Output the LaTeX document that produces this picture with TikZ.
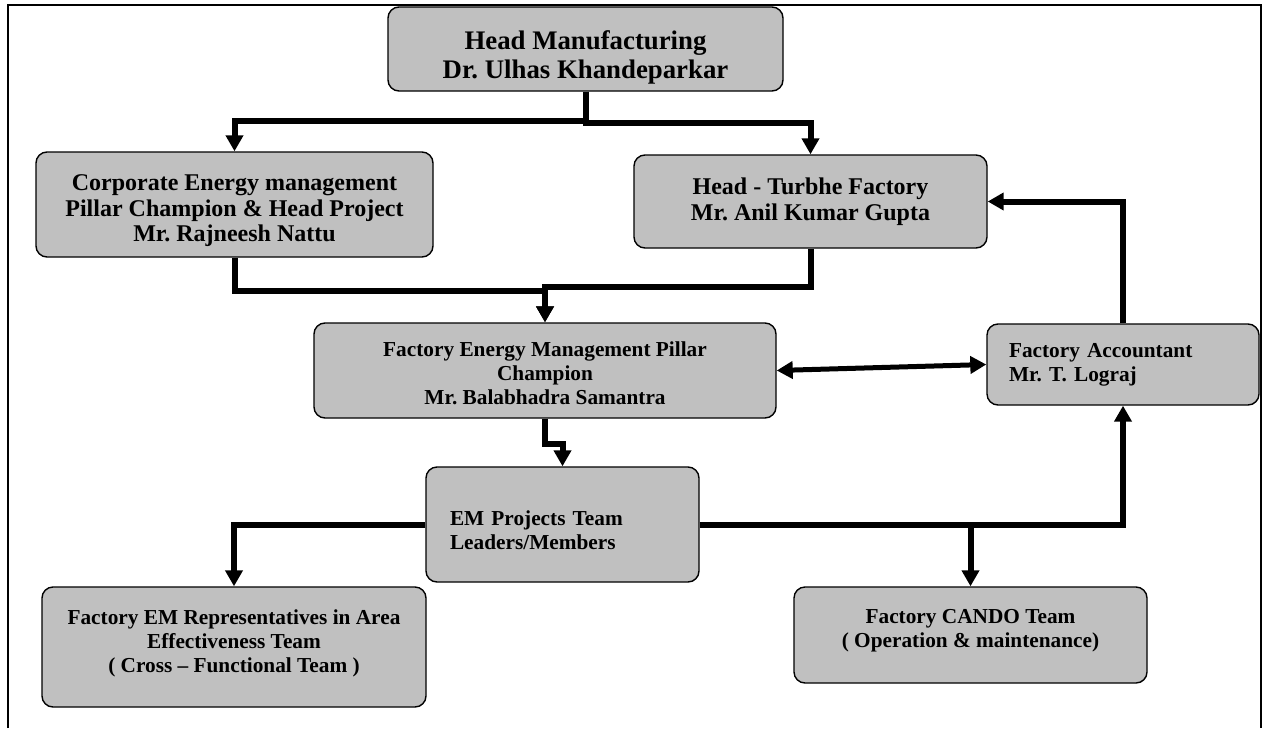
\documentclass[tikz,border=0pt]{standalone}
\usepackage{fontspec}
\setmainfont{Liberation Serif}
\usepackage{tikz}
\usetikzlibrary{arrows.meta,positioning}
\usepackage{xcolor}
\definecolor{orggray}{RGB}{192,192,192}
\frenchspacing
\tikzstyle{post} = [rectangle, rounded corners=11pt, draw=black, line width=1.4pt, fill=orggray, align=center, inner sep=0pt, font=\bfseries\fontsize{21.3}{24}\selectfont]
\tikzstyle{bigpost} = [post, font=\bfseries\fontsize{24}{25.5}\selectfont]
\tikzstyle{leftpost} = [post, align=left]
\tikzstyle{arrow} = [line width=6pt, -{Triangle[length=16pt,width=17pt]}]

\begin{document}
\begin{tikzpicture}[x=1pt, y=-1pt]
\useasboundingbox (0,0) rectangle (1265,728);
\draw[line width=1.8pt] (8,728) -- (8,5) -- (1261,5) -- (1261,728);

% boxes
\node (head) [bigpost, minimum width=395pt, minimum height=84pt, text height=64pt, font=\bfseries\fontsize{26.8}{29}\selectfont] at (585.5,49) {Head Manufacturing\\Dr. Ulhas Khandeparkar};
\node (corp) [bigpost, minimum width=397pt, minimum height=105pt, text height=80pt] at (234.5,204.5) {Corporate Energy management\\Pillar Champion \& Head Project\\Mr. Rajneesh Nattu};
\node (turbhe) [bigpost, minimum width=353pt, minimum height=93pt] at (810.5,201.5) {Head - Turbhe Factory\\Mr. Anil Kumar Gupta};
\node (fem) [post, minimum width=462pt, minimum height=95pt, text height=68pt] at (545,370.5) {Factory Energy Management Pillar\\Champion\\Mr. Balabhadra Samantra};
\node (acc) [leftpost, text width=228pt, inner xsep=22pt, minimum height=81pt] at (1123,364.5) {Factory Accountant\\Mr. T. Lograj};
\node (emp) [leftpost, text width=225pt, inner xsep=24pt, minimum height=115pt, text height=27pt] at (562.5,524.5) {EM Projects Team\\Leaders/Members};
\node (reps) [post, minimum width=384pt, minimum height=120pt, text depth=12.4pt] at (234,647) {Factory EM Representatives in Area\\Effectiveness Team\\( Cross -- Functional Team )};
\node (cando) [post, minimum width=353pt, minimum height=96pt, text depth=12.4pt] at (970.5,635) {Factory CANDO Team\\( Operation \& maintenance)};

% reporting lines
\draw[arrow] (head.south) -- ++(0,29) -| (corp.north);
\draw[arrow] (head.south) -- ++(0,31) -| (turbhe.north);
\draw[arrow] (corp.south) -- ++(0,33) -| (fem.north);
\draw[arrow] (turbhe.south) -- ++(0,38) -| (fem.north);
\draw[arrow] (fem.south) -- ++(0,25) -| (emp.north);
\draw[arrow] (emp.west) -| (reps.north);
\draw[arrow] (emp.east) -| (acc.south);
\draw[arrow] (emp.east -| cando.north) -- (cando.north);
\draw[arrow] (acc.north) |- (turbhe.east);
\draw[arrow, {Triangle[length=16pt,width=17pt]}-{Triangle[length=16pt,width=17pt]}, line width=5pt] (fem.east) -- (acc.west);
\end{tikzpicture}
\end{document}
